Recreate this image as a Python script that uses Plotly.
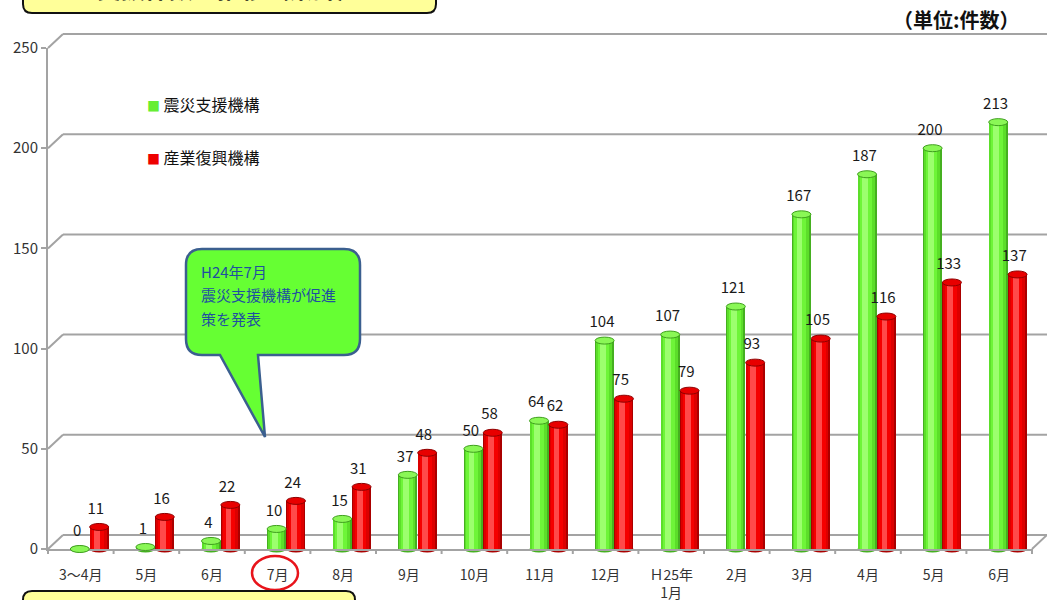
import plotly.graph_objects as go

# ---- data ----
categories = ["3〜4月", "5月", "6月", "7月", "8月", "9月", "10月", "11月", "12月",
              "Ｈ25年<br>1月", "2月", "3月", "4月", "5月", "6月"]
shinsai = [0, 1, 4, 10, 15, 37, 50, 64, 104, 107, 121, 167, 187, 200, 213]
sangyo = [11, 16, 22, 24, 31, 48, 58, 62, 75, 79, 93, 105, 116, 133, 137]
y_ticks = [0, 50, 100, 150, 200, 250]
series_names = ["震災支援機構", "産業復興機構"]

# ---- geometry helpers ----
W, H = 1047, 600
L, R, T, B = 48, 1032, 48, 549
YMAX = 250
N = len(categories)
FONT = "Noto Sans CJK JP"
GRAY = "#a3a3a3"


def px(x):
    return (x - L) / (R - L)


def py(y):
    return (B - y) / (B - T)


def dx2paper(xd):
    return (xd + 0.5) / N


def dy2paper(v):
    return v / YMAX


DX = 15 / (R - L)
DY = 14 / (B - T)
BW = 0.29
idx = list(range(N))
xg = [i - 0.015 for i in idx]
xr = [i + 0.28 for i in idx]

fig = go.Figure()
shapes = []

# back wall gridlines (3D look)
for v in y_ticks:
    yp = dy2paper(v)
    shapes.append(dict(type="line", xref="paper", yref="paper", x0=0, y0=yp, x1=DX, y1=yp + DY,
                       line=dict(color=GRAY, width=2), layer="below"))
    shapes.append(dict(type="line", xref="paper", yref="paper", x0=DX, y0=yp + DY, x1=px(W + 5), y1=yp + DY,
                       line=dict(color=GRAY, width=2), layer="below"))
shapes.append(dict(type="line", xref="paper", yref="paper", x0=1, y0=0, x1=1 + DX, y1=DY,
                   line=dict(color=GRAY, width=2), layer="below"))
# category boundary ticks
for i in range(N + 1):
    shapes.append(dict(type="line", xref="paper", yref="paper", x0=i / N, y0=0, x1=i / N, y1=-5 / (B - T),
                       line=dict(color=GRAY, width=2)))

EH = 3.5 / (B - T)
styles = [
    (xg, shinsai, [(1.0, 0, "#45b020"), (0.86, -0.03, "#5cde2a"), (0.62, -0.06, "#6ef538"), (0.3, -0.1, "#9cff6e")],
     "#8af756", "#3f9f1e", -0.04),
    (xr, sangyo, [(1.0, 0, "#aa0000"), (0.86, -0.03, "#dc0000"), (0.62, -0.06, "#f50000"), (0.3, -0.1, "#ff4a4a")],
     "#e80000", "#8f0000", -0.05),
]
for xs, vals, layers, topc, edgec, loff in styles:
    # bottom ellipse
    for x, v in zip(xs, vals):
        shapes.append(dict(type="circle", xref="paper", yref="paper",
                           x0=dx2paper(x - BW / 2), x1=dx2paper(x + BW / 2),
                           y0=-EH, y1=EH, fillcolor=layers[0][2], line=dict(width=0), layer="below"))
    for frac, off, col in layers:
        fig.add_trace(go.Bar(x=[x + off * BW for x in xs], y=vals, width=BW * frac,
                             marker=dict(color=col, line=dict(width=0)), hoverinfo="skip"))
    for x, v in zip(xs, vals):
        yp = dy2paper(v)
        shapes.append(dict(type="circle", xref="paper", yref="paper",
                           x0=dx2paper(x - BW / 2), x1=dx2paper(x + BW / 2),
                           y0=yp - EH, y1=yp + EH, fillcolor=topc, line=dict(color=edgec, width=1)))
    fig.add_trace(go.Scatter(x=[x + loff for x in xs], y=[v + 8.5 for v in vals], mode="text",
                             text=[str(v) for v in vals], textposition="middle center",
                             textfont=dict(family=FONT, size=15, color="#1a1a1a"),
                             cliponaxis=False, hoverinfo="skip"))


def rounded(x0, y0, x1, y1, r, tail=None):
    segs = []
    segs.append(f"M {px(x0 + r):.5f},{py(y0):.5f}")
    segs.append(f"L {px(x1 - r):.5f},{py(y0):.5f}")
    segs.append(f"Q {px(x1):.5f},{py(y0):.5f} {px(x1):.5f},{py(y0 + r):.5f}")
    segs.append(f"L {px(x1):.5f},{py(y1 - r):.5f}")
    segs.append(f"Q {px(x1):.5f},{py(y1):.5f} {px(x1 - r):.5f},{py(y1):.5f}")
    if tail:
        (bx1, tx, ty, bx0) = tail
        segs.append(f"L {px(bx1):.5f},{py(y1):.5f}")
        segs.append(f"L {px(tx):.5f},{py(ty):.5f}")
        segs.append(f"L {px(bx0):.5f},{py(y1):.5f}")
    segs.append(f"L {px(x0 + r):.5f},{py(y1):.5f}")
    segs.append(f"Q {px(x0):.5f},{py(y1):.5f} {px(x0):.5f},{py(y1 - r):.5f}")
    segs.append(f"L {px(x0):.5f},{py(y0 + r):.5f}")
    segs.append(f"Q {px(x0):.5f},{py(y0):.5f} {px(x0 + r):.5f},{py(y0):.5f}")
    return " ".join(segs) + " Z"


# callout
shapes.append(dict(type="path", xref="paper", yref="paper",
                   path=rounded(186, 249, 360, 355, 16, tail=(258, 265, 437, 220)),
                   fillcolor="#66ff33", line=dict(color="#3b5f8f", width=2.5)))
# red circle around 7月
shapes.append(dict(type="circle", xref="paper", yref="paper", x0=px(252), x1=px(298), y0=py(590), y1=py(556),
                   fillcolor="rgba(0,0,0,0)", line=dict(color="#e8141b", width=2.5)))
# top yellow box (cut off)
shapes.append(dict(type="path", xref="paper", yref="paper", path=rounded(23, -40, 436, 13, 9),
                   fillcolor="#ffff99", line=dict(color="#111111", width=2)))
# bottom yellow box (cut off)
shapes.append(dict(type="path", xref="paper", yref="paper", path=rounded(23, 591, 355, 650, 9),
                   fillcolor="#ffff99", line=dict(color="#111111", width=2)))

annotations = [
    dict(xref="paper", yref="paper", x=px(229), y=py(-12), xanchor="center", yanchor="middle",
         text="<b>支援件数の推移（累計）</b>", showarrow=False, font=dict(family=FONT, size=24, color="#111111")),
    dict(xref="paper", yref="paper", x=px(1022), y=py(19), xanchor="right", yanchor="middle",
         text="<b>（単位:件数）</b>", showarrow=False, font=dict(family=FONT, size=20, color="#111111")),
    dict(xref="paper", yref="paper", x=px(145), y=py(104), xanchor="left", yanchor="middle",
         text="<span style='color:#66ee33;font-size:13px'>■</span> " + series_names[0], showarrow=False,
         font=dict(family=FONT, size=16, color="#111111")),
    dict(xref="paper", yref="paper", x=px(145), y=py(157), xanchor="left", yanchor="middle",
         text="<span style='color:#ee0000;font-size:13px'>■</span> " + series_names[1], showarrow=False,
         font=dict(family=FONT, size=16, color="#111111")),
]
for txt, yy in [("H24年7月", 271), ("震災支援機構が促進", 294), ("策を発表", 318)]:
    annotations.append(dict(xref="paper", yref="paper", x=px(199), y=py(yy), xanchor="left", yanchor="middle",
                            text=txt, showarrow=False, font=dict(family=FONT, size=15, color="#1f4fa0")))

fig.update_layout(
    width=W, height=H,
    margin=dict(l=L, r=W - R, t=T, b=H - B),
    plot_bgcolor="white", paper_bgcolor="white",
    showlegend=False, barmode="overlay", bargap=0,
    shapes=shapes, annotations=annotations,
    xaxis=dict(range=[-0.5, N - 0.5], showline=True, linecolor=GRAY, linewidth=2, showgrid=False,
               zeroline=False, tickvals=idx, ticktext=categories, ticks="", ticklabelstandoff=12,
               automargin=False,
               tickfont=dict(family=FONT, size=14, color="#333333"), fixedrange=True),
    yaxis=dict(range=[0, YMAX], showline=True, linecolor=GRAY, linewidth=2, showgrid=False, zeroline=False,
               tickvals=y_ticks, ticks="outside", ticklen=5, tickwidth=2, tickcolor=GRAY, automargin=False,
               tickfont=dict(family=FONT, size=15, color="#333333"), fixedrange=True),
)

fig.write_html("out.html", config={"displayModeBar": False})
